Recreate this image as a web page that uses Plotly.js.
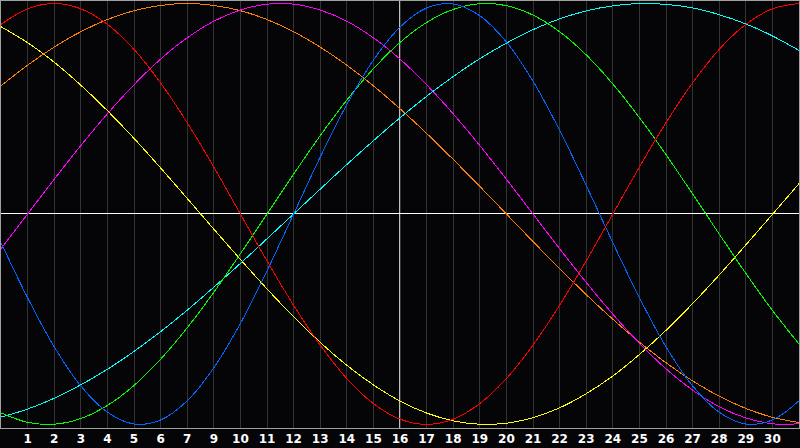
<!DOCTYPE html>
<html>
<head>
<meta charset="utf-8">
<script src="https://cdn.plot.ly/plotly-3.0.1.min.js"></script>
<style>
  html, body { margin: 0; padding: 0; background: #050507; }
  #chart { width: 800px; height: 448px; }
  /* the original strip is drawn pixel-hard, no anti-aliasing */
  #chart .scatterlayer path, #chart .gridlayer path, #chart .zerolinelayer path { shape-rendering: crispEdges; }
</style>
</head>
<body>
<div id="chart"></div>
<script>
// day columns across the strip, and the day numbers printed under the grid lines
const DAY_POS = [0, 1, 2, 3, 4, 5, 6, 7, 8, 9, 10, 11, 12, 13, 14, 15, 16, 17, 18, 19, 20,
  21, 22, 23, 24, 25, 26, 27, 28, 29, 30];
const TICK_POS = [1, 2, 3, 4, 5, 6, 7, 8, 9, 10, 11, 12, 13, 14, 15, 16, 17, 18, 19, 20,
  21, 22, 23, 24, 25, 26, 27, 28, 29];
const TICK_TEXT = ["1", "2", "3", "4", "5", "6", "7", "9", "10", "11", "12", "13", "14", "15",
  "16", "17", "18", "19", "20", "21", "22", "23", "24", "25", "26", "27", "28", "29", "30"];
const TODAY_POS = 15;

// cycle values (-1 .. 1) per day column
const PHYSICAL = [-0.136, -0.398, -0.631, -0.817, -0.942, -0.998, -0.979, -0.888, -0.731,
  -0.520, -0.270, 0.000, 0.270, 0.520, 0.731, 0.888, 0.979, 0.998, 0.942, 0.817, 0.631,
  0.398, 0.136, -0.136, -0.398, -0.631, -0.817, -0.942, -0.998, -0.979, -0.888];
const EMOTIONAL = [0.901, 0.975, 1.000, 0.975, 0.901, 0.782, 0.623, 0.434, 0.223, 0.000,
  -0.223, -0.434, -0.623, -0.782, -0.901, -0.975, -1.000, -0.975, -0.901, -0.782, -0.623,
  -0.434, -0.223, 0.000, 0.223, 0.434, 0.623, 0.782, 0.901, 0.975, 1.000];
const INTELLECTUAL = [-0.945, -0.990, -0.999, -0.972, -0.910, -0.815, -0.690, -0.541, -0.372,
  -0.189, 0.000, 0.189, 0.372, 0.541, 0.690, 0.815, 0.910, 0.972, 0.999, 0.990, 0.945,
  0.866, 0.756, 0.618, 0.458, 0.282, 0.095, -0.095, -0.282, -0.458, -0.618];
const INTUITIVE = [-0.165, 0.000, 0.165, 0.325, 0.476, 0.614, 0.736, 0.837, 0.916, 0.969,
  0.997, 0.997, 0.969, 0.916, 0.837, 0.736, 0.614, 0.476, 0.325, 0.165, 0.000, -0.165,
  -0.325, -0.476, -0.614, -0.736, -0.837, -0.916, -0.969, -0.997, -0.997];
const AESTHETIC = [0.890, 0.814, 0.721, 0.612, 0.491, 0.359, 0.219, 0.074, -0.072, -0.216,
  -0.356, -0.488, -0.610, -0.719, -0.812, -0.889, -0.946, -0.983, -0.999, -0.994, -0.968,
  -0.921, -0.854, -0.770, -0.668, -0.553, -0.426, -0.290, -0.147, -0.002, 0.144];
const AWARENESS = [0.609, 0.707, 0.793, 0.866, 0.924, 0.966, 0.991, 1.000, 0.991, 0.966,
  0.924, 0.866, 0.793, 0.707, 0.609, 0.500, 0.383, 0.259, 0.131, 0.000, -0.131, -0.259,
  -0.383, -0.500, -0.609, -0.707, -0.793, -0.866, -0.924, -0.966, -0.991];
const SPIRITUAL = [-0.965, -0.927, -0.876, -0.812, -0.738, -0.653, -0.559, -0.457, -0.348,
  -0.235, -0.118, 0.000, 0.118, 0.235, 0.348, 0.457, 0.559, 0.653, 0.738, 0.812, 0.876,
  0.927, 0.965, 0.989, 1.000, 0.996, 0.979, 0.947, 0.903, 0.846, 0.777];

const CYCLES = [
  { name: "aesthetic", y: AESTHETIC, color: "#ffff00" },
  { name: "awareness", y: AWARENESS, color: "#ff8000" },
  { name: "intuitive", y: INTUITIVE, color: "#ff00ff" },
  { name: "spiritual", y: SPIRITUAL, color: "#00ffff" },
  { name: "intellectual", y: INTELLECTUAL, color: "#00ff00" },
  { name: "physical", y: PHYSICAL, color: "#0066ff" },
  { name: "emotional", y: EMOTIONAL, color: "#ff0000" },
];

const BG = "#050507";
const GRID = "#333333";
const FRAME = "#a0a0a0";

const traces = CYCLES.map((c) => ({
  x: DAY_POS, y: c.y, name: c.name,
  type: "scatter", mode: "lines",
  line: { color: c.color, width: 1, shape: "spline", smoothing: 1 },
  hoverinfo: "skip",
}));

const layout = {
  width: 800, height: 448,
  paper_bgcolor: BG, plot_bgcolor: BG,
  margin: { l: 1, r: 1, t: 1, b: 20 },
  showlegend: false,
  hovermode: false,
  dragmode: false,
  xaxis: {
    range: [0, 30], fixedrange: true,
    tickmode: "array", tickvals: TICK_POS, ticktext: TICK_TEXT,
    showgrid: true, gridcolor: GRID, gridwidth: 1,
    zeroline: false, ticks: "", ticklen: 0,
    showline: true, mirror: true, linecolor: FRAME, linewidth: 1,
    tickfont: { family: '"DejaVu Sans", Verdana, sans-serif', size: 12, color: "#ffffff", weight: "bold" },
  },
  yaxis: {
    range: [-1.017, 1.012], fixedrange: true,
    showgrid: false, showticklabels: false, ticks: "",
    zeroline: true, zerolinecolor: "#ffffff", zerolinewidth: 1,
    showline: true, mirror: true, linecolor: FRAME, linewidth: 1,
  },
  // "today" marker: above the grid, under the curves
  shapes: [{
    type: "line", xref: "x", yref: "paper", x0: TODAY_POS, x1: TODAY_POS, y0: 0, y1: 1,
    line: { color: "#ffffff", width: 1.5 }, layer: "between",
  }],
};

Plotly.newPlot("chart", traces, layout, { displayModeBar: false, staticPlot: true });
</script>
</body>
</html>
